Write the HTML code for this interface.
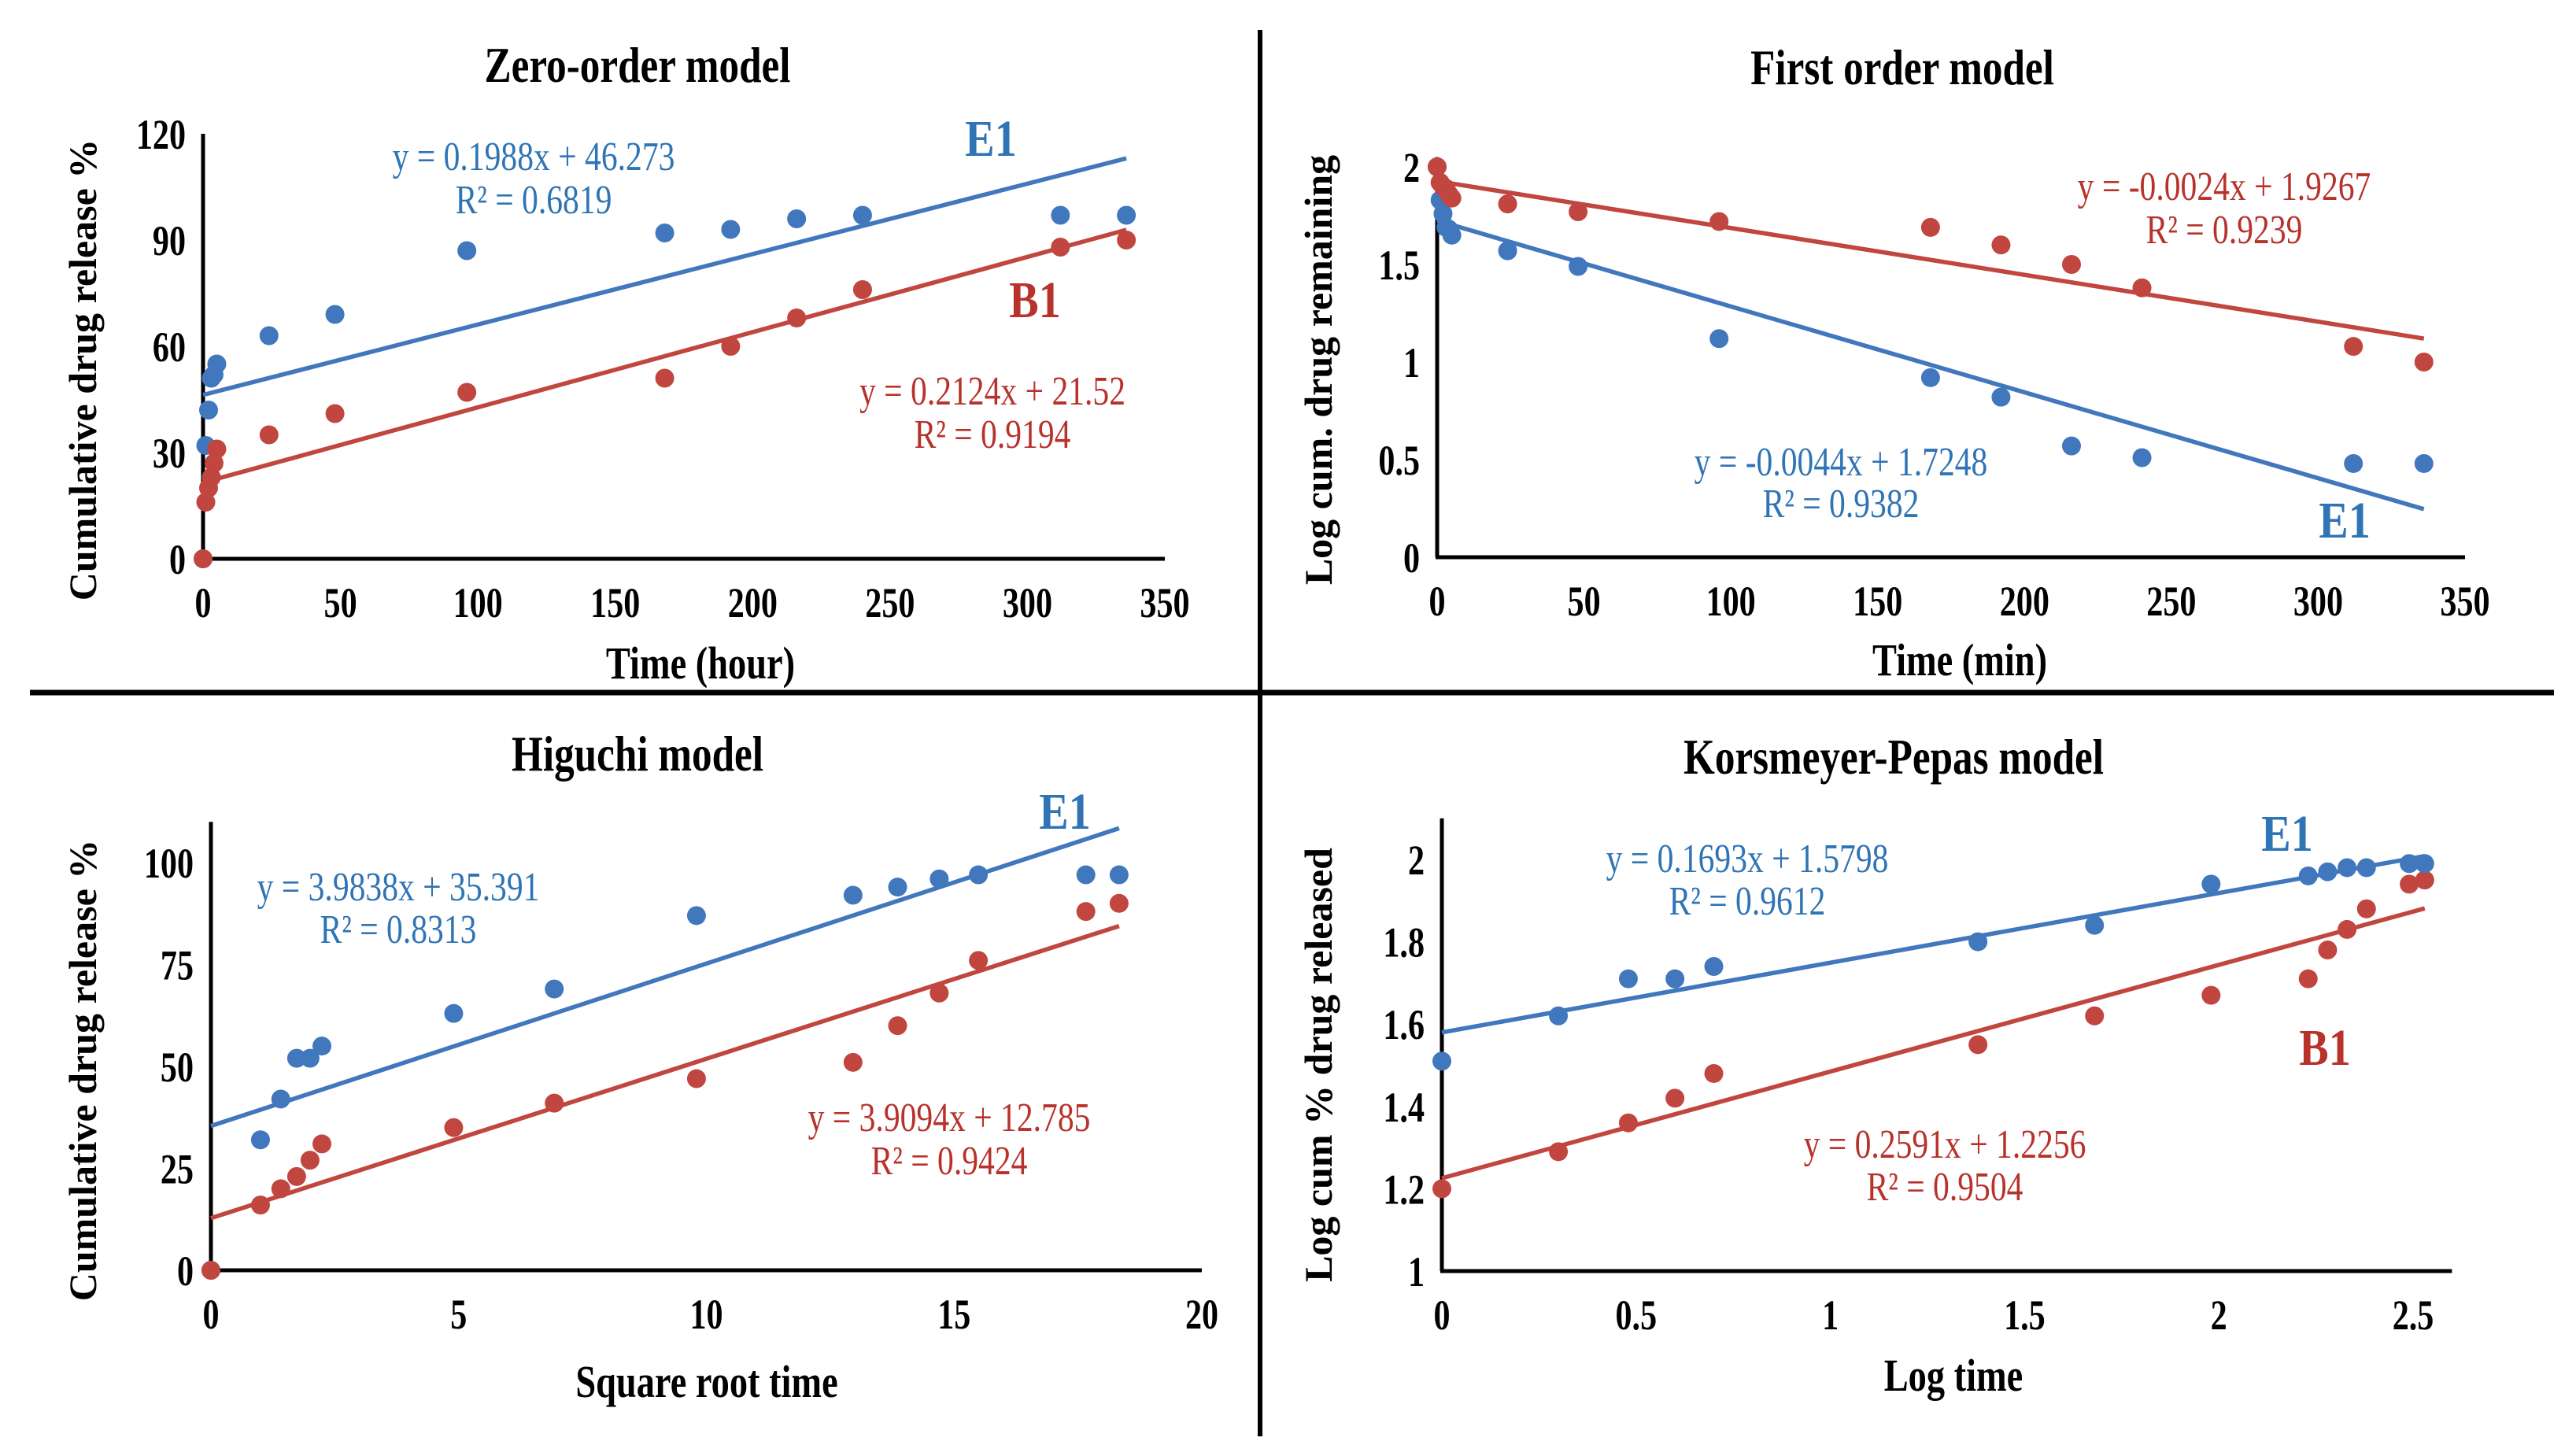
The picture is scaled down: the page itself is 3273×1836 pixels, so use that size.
<!DOCTYPE html>
<html><head><meta charset="utf-8"><style>
html,body{margin:0;padding:0;background:#fff;}
svg{display:block;}
text{font-family:"Liberation Serif",serif;}
</style></head><body>
<svg id="fig" width="3273" height="1836" viewBox="0 0 3273 1836" xmlns="http://www.w3.org/2000/svg">
<rect width="3273" height="1836" fill="#fff"/>
<line x1="38" y1="880" x2="3245" y2="880" stroke="#000" stroke-width="7"/>
<line x1="1601" y1="38" x2="1601" y2="1825" stroke="#000" stroke-width="6"/>
</svg>
<script>
// ---- data ----
const zoTime = [0, 1, 2, 3, 4, 5, 24, 48, 96, 168, 192, 216, 240, 312, 336];
const zoE1 = [0, 32, 42, 51, 52, 55, 63, 69, 87, 92, 93, 96, 97, 97, 97];
const zoB1 = [0, 16, 20, 23, 27, 31, 35, 41, 47, 51, 60, 68, 76, 88, 90];
const zoTrendE1 = [0.1988, 46.273];
const zoTrendB1 = [0.2124, 21.52];
const zoXTicks = [0, 50, 100, 150, 200, 250, 300, 350];
const zoYTicks = [0, 30, 60, 90, 120];

const foTime = [0, 1, 2, 3, 4, 5, 24, 48, 96, 168, 192, 216, 240, 312, 336];
const foE1 = [2.0, 1.83, 1.76, 1.69, 1.68, 1.65, 1.57, 1.49, 1.12, 0.92, 0.82, 0.57, 0.51, 0.48, 0.48];
const foB1 = [2.0, 1.92, 1.90, 1.89, 1.86, 1.84, 1.81, 1.77, 1.72, 1.69, 1.60, 1.50, 1.38, 1.08, 1.00];
const foTrendE1 = [-0.0044, 1.7248];
const foTrendB1 = [-0.0024, 1.9267];
const foXTicks = [0, 50, 100, 150, 200, 250, 300, 350];
const foYTicks = [0, 0.5, 1, 1.5, 2];
const foYLabels = ["0", "0.5", "1", "1.5", "2"];

const hiX = [0, 1, 1.41, 1.73, 2, 2.24, 4.9, 6.93, 9.8, 12.96, 13.86, 14.7, 15.49, 17.66, 18.33];
const hiE1 = [0, 32, 42, 52, 52, 55, 63, 69, 87, 92, 94, 96, 97, 97, 97];
const hiB1 = [0, 16, 20, 23, 27, 31, 35, 41, 47, 51, 60, 68, 76, 88, 90];
const hiTrendE1 = [3.9838, 35.391];
const hiTrendB1 = [3.9094, 12.785];
const hiXTicks = [0, 5, 10, 15, 20];
const hiYTicks = [0, 25, 50, 75, 100];

const kpX = [0, 0.30, 0.48, 0.60, 0.70, 1.38, 1.68, 1.98, 2.23, 2.28, 2.33, 2.38, 2.49, 2.53];
const kpE1 = [1.51, 1.62, 1.71, 1.71, 1.74, 1.80, 1.84, 1.94, 1.96, 1.97, 1.98, 1.98, 1.99, 1.99];
const kpB1 = [1.20, 1.29, 1.36, 1.42, 1.48, 1.55, 1.62, 1.67, 1.71, 1.78, 1.83, 1.88, 1.94, 1.95];
const kpTrendE1 = [0.1693, 1.5798];
const kpTrendB1 = [0.2591, 1.2256];
const kpXTicks = [0, 0.5, 1, 1.5, 2, 2.5];
const kpXLabels = ["0", "0.5", "1", "1.5", "2", "2.5"];
const kpYTicks = [1, 1.2, 1.4, 1.6, 1.8, 2];
const kpYLabels = ["1", "1.2", "1.4", "1.6", "1.8", "2"];

const BLUE = "#4177bd", RED = "#c0463f", BLUET = "#2f74b5", REDT = "#b8322c";
const NS = "http://www.w3.org/2000/svg";
const svg = document.getElementById("fig");

function el(tag, attrs, parent) {
  const e = document.createElementNS(NS, tag);
  for (const k in attrs) e.setAttribute(k, attrs[k]);
  (parent || svg).appendChild(e);
  return e;
}
// condensed text: drawn at origin, then translated & horizontally squeezed
function txt(parent, x, y, s, size, fill, weight, anchor, sx) {
  const t = el("text", {x: 0, y: 0, "font-size": size, fill: fill, "font-weight": weight, "text-anchor": anchor || "middle",
    transform: "translate(" + x + "," + y + ") scale(" + (sx || 0.84) + ",1)"}, parent);
  t.textContent = s;
  return t;
}

function panel(cfg) {
  const g = el("g", {});
  
  
  const sx = v => cfg.px0 + (v - cfg.x0) / (cfg.x1 - cfg.x0) * (cfg.px1 - cfg.px0);
  const sy = v => cfg.py0 + (v - cfg.y0) / (cfg.y1 - cfg.y0) * (cfg.py1 - cfg.py0);
  const tt = txt(g, cfg.title[1], cfg.title[2], cfg.title[0], 64, "#000", "bold", "middle", 0.8);
  
  
  const ya = el("line", {x1: sx(cfg.x0), y1: sy(cfg.yTop), x2: sx(cfg.x0), y2: sy(cfg.y0), stroke: "#000", "stroke-width": 5}, g);
  
  
  const xa = el("line", {x1: sx(cfg.x0) - 2, y1: sy(cfg.y0), x2: sx(cfg.xEnd), y2: sy(cfg.y0), stroke: "#000", "stroke-width": 5}, g);
  
  
  cfg.xTicks.forEach((v, i) => {
    const t = txt(g, sx(v), sy(cfg.y0) + 74, cfg.xLabels ? cfg.xLabels[i] : String(v), 54, "#000", "bold", "middle", 0.78);
    
    
  });
  cfg.yTicks.forEach((v, i) => {
    const t = txt(g, sx(cfg.x0) - 22, sy(v) + 19, cfg.yLabels ? cfg.yLabels[i] : String(v), 54, "#000", "bold", "end", 0.78);
    
    
  });
  const xt = txt(g, cfg.xTitle[1], cfg.xTitle[2], cfg.xTitle[0], 58, "#000", "bold", "middle", 0.8);
  
  
  const yt = el("text", {x: 0, y: 0, "font-size": 50, fill: "#000", "font-weight": "bold", "text-anchor": "middle",
    transform: "translate(" + cfg.yTitle[1] + "," + cfg.yTitle[2] + ") rotate(-90)"}, g);
  yt.textContent = cfg.yTitle[0];
  
  
  const xs = cfg.xs, xmax = xs[xs.length - 1];
  [[cfg.tB, RED, "trendline-b1"], [cfg.tE, BLUE, "trendline-e1"]].forEach(d => {
    const l = el("line", {x1: sx(0), y1: sy(d[0][1]), x2: sx(xmax), y2: sy(d[0][0] * xmax + d[0][1]), stroke: d[1], "stroke-width": 5.5}, g);
    
    
  });
  const series = cfg.redOnTop ? [[cfg.e, BLUE, "point-e1"], [cfg.b, RED, "point-b1"]] : [[cfg.b, RED, "point-b1"], [cfg.e, BLUE, "point-e1"]];
  series.forEach(s => {
    s[0].forEach((v, i) => {
      const c = el("circle", {cx: sx(xs[i]), cy: sy(v), r: 12, fill: s[1]}, g);
      
      
    });
  });
  cfg.notes.forEach(n => {
    const big = n[5] === "bold";
    const t = txt(g, n[1], n[2], n[0], big ? 66 : 52, n[3], n[5] || "normal", "middle", big ? 0.85 : 0.8);
    
    
  });
}

panel({
  name: "zero-order-panel", x0: 0, x1: 350, px0: 258, px1: 1480, y0: 0, y1: 120, py0: 710, py1: 170,
  yTop: 120, xEnd: 350, xs: zoTime, e: zoE1, b: zoB1, tE: zoTrendE1, tB: zoTrendB1,
  xTicks: zoXTicks, yTicks: zoYTicks, redOnTop: true,
  title: ["Zero-order model", 810, 104], xTitle: ["Time (hour)", 890, 862], yTitle: ["Cumulative drug release %", 122, 470],
  notes: [["y = 0.1988x + 46.273", 678, 216, BLUET, 44, "normal", "equation-e1"], ["R² = 0.6819", 678, 271, BLUET, 44, "normal", "r-squared-e1"],
          ["E1", 1259, 198, BLUET, 58, "bold", "label-e1"], ["B1", 1315, 403, REDT, 58, "bold", "label-b1"],
          ["y = 0.2124x + 21.52", 1261, 514, REDT, 44, "normal", "equation-b1"], ["R² = 0.9194", 1261, 569, REDT, 44, "normal", "r-squared-b1"]]
});
panel({
  name: "first-order-panel", x0: 0, x1: 350, px0: 1826, px1: 3132, y0: 0, y1: 2, py0: 708, py1: 212,
  yTop: 2.05, xEnd: 350, xs: foTime, e: foE1, b: foB1, tE: foTrendE1, tB: foTrendB1,
  xTicks: foXTicks, yTicks: foYTicks, yLabels: foYLabels, redOnTop: true,
  title: ["First order model", 2417, 107], xTitle: ["Time (min)", 2490, 858], yTitle: ["Log cum. drug remaining", 1692, 470],
  notes: [["y = -0.0024x + 1.9267", 2826, 254, REDT, 44, "normal", "equation-b1"], ["R² = 0.9239", 2826, 309, REDT, 44, "normal", "r-squared-b1"],
          ["y = -0.0044x + 1.7248", 2339, 604, BLUET, 44, "normal", "equation-e1"], ["R² = 0.9382", 2339, 657, BLUET, 44, "normal", "r-squared-e1"],
          ["E1", 2979, 683, BLUET, 58, "bold", "label-e1"]]
});
panel({
  name: "higuchi-panel", x0: 0, x1: 20, px0: 268, px1: 1527, y0: 0, y1: 100, py0: 1614, py1: 1096,
  yTop: 110, xEnd: 20, xs: hiX, e: hiE1, b: hiB1, tE: hiTrendE1, tB: hiTrendB1,
  xTicks: hiXTicks, yTicks: hiYTicks, redOnTop: true,
  title: ["Higuchi model", 810, 979], xTitle: ["Square root time", 898, 1775], yTitle: ["Cumulative drug release %", 122, 1360],
  notes: [["E1", 1353, 1053, BLUET, 58, "bold", "label-e1"],
          ["y = 3.9838x + 35.391", 506, 1144, BLUET, 44, "normal", "equation-e1"], ["R² = 0.8313", 506, 1198, BLUET, 44, "normal", "r-squared-e1"],
          ["y = 3.9094x + 12.785", 1206, 1437, REDT, 44, "normal", "equation-b1"], ["R² = 0.9424", 1206, 1492, REDT, 44, "normal", "r-squared-b1"]]
});
panel({
  name: "korsmeyer-peppas-panel", x0: 0, x1: 2.5, px0: 1832, px1: 3066, y0: 1, y1: 2, py0: 1615, py1: 1092,
  yTop: 2.1, xEnd: 2.6, xs: kpX, e: kpE1, b: kpB1, tE: kpTrendE1, tB: kpTrendB1,
  xTicks: kpXTicks, xLabels: kpXLabels, yTicks: kpYTicks, yLabels: kpYLabels, redOnTop: false,
  title: ["Korsmeyer-Pepas model", 2406, 983], xTitle: ["Log time", 2482, 1767], yTitle: ["Log cum % drug released", 1692, 1353],
  notes: [["E1", 2906, 1081, BLUET, 58, "bold", "label-e1"],
          ["y = 0.1693x + 1.5798", 2220, 1108, BLUET, 44, "normal", "equation-e1"], ["R² = 0.9612", 2220, 1162, BLUET, 44, "normal", "r-squared-e1"],
          ["B1", 2954, 1353, REDT, 58, "bold", "label-b1"],
          ["y = 0.2591x + 1.2256", 2471, 1471, REDT, 44, "normal", "equation-b1"], ["R² = 0.9504", 2471, 1525, REDT, 44, "normal", "r-squared-b1"]]
});
</script>
</body></html>
